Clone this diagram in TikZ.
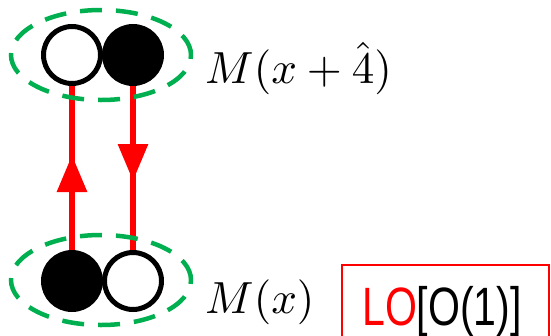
\documentclass[tikz,border=0pt]{standalone}
\usepackage{fontspec}
\newfontfamily\lofont{Liberation Sans}
\usetikzlibrary{shapes.geometric,arrows.meta,decorations.markings}
\definecolor{dgreen}{RGB}{0,176,80}
\definecolor{pred}{RGB}{255,0,0}
\tikzset{
  opendot/.style={circle,draw=black,fill=white,line width=5pt,minimum size=57pt,inner sep=0pt},
  filldot/.style={circle,draw=black,fill=black,line width=5pt,minimum size=57pt,inner sep=0pt},
  meson/.style={ellipse,draw=dgreen,line width=4.5pt,dash pattern=on 22pt off 14pt,minimum width=180pt,minimum height=90pt,inner sep=0pt},
  prop/.style={draw=pred,line width=6pt,postaction={decorate},
    decoration={markings,mark=at position 95pt with {\arrow[pred]{Triangle[length=37pt,width=29pt]}}}},
  lbl/.style={anchor=base west,inner sep=0pt}
}
\begin{document}
\begin{tikzpicture}[x=1pt,y=-1pt]
\useasboundingbox (0,0) rectangle (551,335);
\clip (0,0) rectangle (551,335);
% top pair
\node[opendot] (t1) at (72,55) {};
\node[filldot] (t2) at (133,55) {};
% bottom pair
\node[filldot] (b1) at (72,281) {};
\node[opendot] (b2) at (133,281) {};
% propagators
\draw[prop] (b1.north) -- (t1.south);
\draw[prop] (t2.south) -- (b2.north);
% mesons
\node[meson] (et) at (101,55) {};
\node[meson] (eb) at (101,280) {};
% labels
\node[lbl] (lt) at (205,83) {\scalebox{4.5}{$M(x+\hat{4})$}};
\node[lbl] (lb) at (205,313) {\scalebox{4.5}{$M(x)$}};
% box
\draw[pred,line width=2pt] (549,345) -- (549,265) -- (342,265) -- (342,345);
\node[anchor=base west,inner sep=0pt] (lo) at (362,325) {\scalebox{0.76}[1]{\lofont\fontsize{54}{60}\selectfont\textcolor{pred}{LO}[O(1)]}};
\end{tikzpicture}
\end{document}
